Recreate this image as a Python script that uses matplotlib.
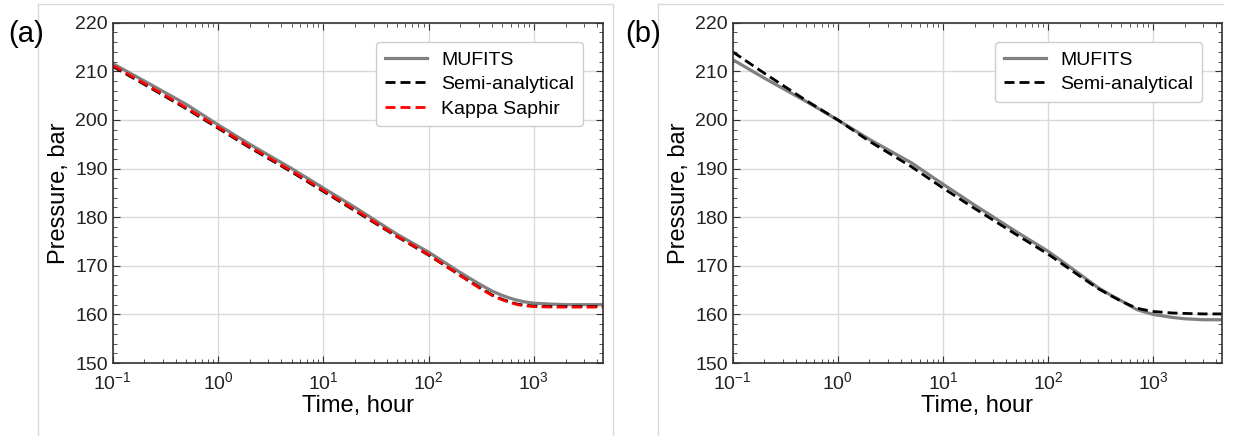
import numpy as np
import matplotlib
matplotlib.use("Agg")
import matplotlib.pyplot as plt
from matplotlib.patches import Rectangle
from matplotlib.lines import Line2D
from matplotlib.ticker import MultipleLocator

plt.rcParams['font.family'] = ['Liberation Sans', 'DejaVu Sans']

# time, hour
t = [0.1, 0.2, 0.5, 1, 2, 5, 10, 20, 50, 100, 200, 300, 400, 500, 600, 700, 800,
     1000, 1500, 2000, 3000, 4500]

# panel (a)
a_mufits = [211.6, 208.0, 203.2, 199.0, 195.0, 190.0, 186.0, 182.0, 176.5, 172.8,
            168.6, 166.3, 164.8, 163.9, 163.3, 162.9, 162.6, 162.3, 162.1, 162.0, 162.0, 162.0]
a_semi = [211.0, 207.3, 202.3, 198.3, 194.3, 189.3, 185.3, 181.3, 176.0, 172.2,
          168.0, 165.6, 164.0, 163.1, 162.5, 162.1, 161.9, 161.7, 161.6, 161.6, 161.6, 161.6]
a_kappa = [211.2, 207.5, 202.5, 198.5, 194.5, 189.5, 185.5, 181.5, 176.1, 172.3,
           168.0, 165.5, 163.9, 163.0, 162.4, 162.0, 161.8, 161.6, 161.5, 161.5, 161.5, 161.5]

# panel (b)
b_mufits = [212.4, 208.6, 203.8, 200.0, 196.0, 191.2, 186.8, 182.5, 177.0, 173.0,
            168.3, 165.5, 163.9, 162.8, 161.8, 161.0, 160.6, 160.0, 159.4, 159.1, 158.9, 158.9]
b_semi = [214.0, 209.6, 204.0, 200.0, 195.6, 190.4, 186.0, 181.8, 176.4, 172.4,
          167.9, 165.3, 163.8, 162.7, 161.9, 161.3, 161.0, 160.6, 160.3, 160.2, 160.1, 160.1]

W, H = 1237, 436
fig = plt.figure(figsize=(W / 100, H / 100), dpi=100)

# light frames around each panel
fc = '#d8d8d8'
fig.patches.append(Rectangle((38 / W, -0.1), (613 - 38) / W, 1.1 - 4 / H,
                             transform=fig.transFigure, fill=False,
                             edgecolor=fc, lw=1.0))
fig.lines.append(Line2D([658 / W, 658 / W], [-0.1, 1 - 4 / H], color=fc, lw=1.0,
                        transform=fig.transFigure))
fig.lines.append(Line2D([658 / W, 1223 / W], [1 - 4 / H, 1 - 4 / H], color=fc, lw=1.0,
                        transform=fig.transFigure))

dash = (0, (3.6, 1.8))

def setup(ax):
    ax.set_xscale('log')
    ax.set_xlim(0.1, 4500)
    ax.set_ylim(150, 220)
    ax.yaxis.set_major_locator(MultipleLocator(10))
    ax.yaxis.set_minor_locator(MultipleLocator(2))
    ax.grid(True, which='major', color='#d9d9d9', lw=1.0)
    ax.set_axisbelow(True)
    ax.tick_params(which='both', direction='in', top=True, right=True,
                   labelsize=14, colors='#333333', labelcolor='#222222')
    ax.tick_params(which='major', length=5)
    ax.tick_params(which='minor', length=3)
    ax.tick_params(axis='x', which='both', pad=6)
    for s in ax.spines.values():
        s.set_color('#333333')
        s.set_linewidth(1.2)
    ax.set_xlabel('Time, hour', fontsize=17, labelpad=1)
    ax.set_ylabel('Pressure, bar', fontsize=17, labelpad=4)

def legend(ax):
    ax.legend(loc='upper right', fontsize=14, frameon=True, fancybox=True,
              edgecolor='#cccccc', framealpha=1, handlelength=2.15,
              handletextpad=0.75, borderpad=0.45, labelspacing=0.35,
              bbox_to_anchor=(1 - 10 / 489, 1 - 10 / 340))

ax1 = fig.add_axes([112.7 / W, (H - 363) / H, 490 / W, 340.3 / H])
ax1.plot(t, a_mufits, color='#808080', lw=2.3, label='MUFITS')
ax1.plot(t, a_semi, color='black', lw=2.0, ls=dash, label='Semi-analytical')
ax1.plot(t, a_kappa, color='red', lw=2.0, ls=dash, label='Kappa Saphir')
setup(ax1)
legend(ax1)

ax2 = fig.add_axes([732.7 / W, (H - 363) / H, 489 / W, 340.3 / H])
ax2.plot(t, b_mufits, color='#808080', lw=2.3, label='MUFITS')
ax2.plot(t, b_semi, color='black', lw=2.0, ls=dash, label='Semi-analytical')
setup(ax2)
legend(ax2)

fig.text(26 / W, 1 - 33.5 / H, '(a)', fontsize=21, ha='center', va='center')
fig.text(643 / W, 1 - 34 / H, '(b)', fontsize=21, ha='center', va='center')

fig.savefig('out.png', dpi=100)
